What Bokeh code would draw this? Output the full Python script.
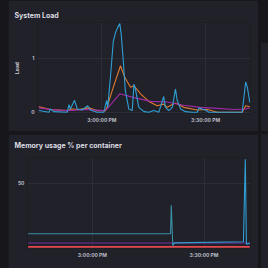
from bokeh.plotting import figure
from bokeh.layouts import row, column
from bokeh.models import Spacer, FixedTicker
from bokeh.embed import file_html
from bokeh.resources import INLINE

PAGE = "#16161b"
PANEL = "#212129"
GRID = "#2d2d37"
TITLE_C = "#dcdde3"
TICK_C = "#b9bcc5"
FONT = "Inter"

# shared x ticks (minutes relative to 3:00 PM)
tick_minutes = [0, 30]
tick_labels = ["3:00:00 PM", "3:30:00 PM"]

# ---- System Load ----
load1_t = [-18.2, -15.3, -14.9, -13.9, -10.0, -9.5, -9.1, -7.9, -7.1, -5.7, -4.1, -3.3, -1.4, 0.6,
           1.4, 1.7, 2.5, 3.3, 4.0, 4.6, 5.2, 5.6, 6.2, 6.8, 7.8, 8.8, 9.3, 9.7, 10.7, 12.2, 13.6,
           15.0, 16.5, 17.9, 18.4, 19.4, 20.4, 21.3, 21.8, 22.8, 24.2, 26.1, 27.6, 28.1, 29.0,
           30.0, 31.0, 33.4, 38.2, 40.6, 41.6, 42.1, 42.8]
load1_v = [0.03, 0.0, 0.06, 0.01, 0.0, 0.14, 0.06, 0.22, 0.06, 0.04, 0.12, 0.04, 0.0, 0.0,
           0.22, 0.09, 0.65, 1.30, 1.48, 1.57, 1.64, 1.45, 0.96, 0.40, 0.06, 0.03, 0.52, 0.43, 0.09,
           0.01, 0.0, 0.03, 0.0, 0.29, 0.09, 0.03, 0.09, 0.43, 0.22, 0.06, 0.01, 0.0, 0.0, 0.08,
           0.06, 0.04, 0.0, 0.0, 0.0, 0.0, 0.56, 0.46, 0.18]
load5_t = [-18.2, -14.9, -10.0, -8.6, -6.7, -3.8, -1.4, 1.1, 1.5, 3.0, 5.4, 6.6, 8.3, 9.3, 11.2,
           13.6, 16.0, 17.9, 18.9, 21.3, 23.7, 27.6, 30.5, 33.4, 40.6, 41.6, 42.8]
load5_v = [0.10, 0.05, 0.03, 0.06, 0.05, 0.08, 0.03, 0.03, 0.09, 0.40, 0.86, 0.65, 0.46, 0.49, 0.34,
           0.20, 0.12, 0.15, 0.09, 0.17, 0.09, 0.04, 0.05, 0.0, 0.0, 0.12, 0.10]
load15_t = [-18.2, -14.9, -10.0, -4.5, 0.6, 1.5, 5.2, 9.3, 14.1, 18.9, 23.7, 28.5, 33.4, 38.2, 41.6, 42.8]
load15_v = [0.08, 0.05, 0.03, 0.05, 0.03, 0.06, 0.34, 0.27, 0.20, 0.19, 0.13, 0.09, 0.07, 0.05, 0.06, 0.08]
load_ticks = [0, 1]

# ---- Memory usage % per container ----
mem_a_t = [-17.3, 21.0, 21.2, 21.6]
mem_a_v = [10.7, 10.7, 33.0, 1.5]
mem_b_t = [21.6, 22.0, 40.6, 41.1, 41.4, 41.6, 42.3]
mem_b_v = [1.5, 3.6, 4.5, 69.0, 3.0, 2.5, 3.4]
mem_c_t = [-17.3, 42.3]
mem_c_v = [3.4, 3.4]
mem_d_t = [-17.3, 42.3]
mem_d_v = [0.4, 0.4]
mem_ticks = [50]

BLUE = "#2f9fd4"
ORANGE = "#e07a2e"
MAGENTA = "#a02aa6"
TEAL = "#3a8fa6"
PURPLE = "#5b2a78"
RED = "#e5484d"


def style(p, title_offset, standoff, valign, yticks):
    p.title.text_font = FONT
    p.title.text_font_size = "7px"
    p.title.text_font_style = "bold"
    p.title.text_color = TITLE_C
    p.title.align = "left"
    p.title.vertical_align = valign
    p.title.offset = title_offset
    p.title.standoff = standoff
    p.background_fill_color = PANEL
    p.border_fill_color = PANEL
    p.outline_line_color = None
    for ax in (p.xaxis[0], p.yaxis[0]):
        ax.axis_line_color = None
        ax.major_tick_line_color = None
        ax.minor_tick_line_color = None
        ax.major_tick_out = 0
        ax.minor_tick_out = 0
        ax.major_label_text_font = FONT
        ax.major_label_text_font_size = "5px"
        ax.major_label_text_color = TICK_C
        ax.major_label_text_font_style = "bold"
        ax.major_label_standoff = 3
    p.xaxis[0].ticker = FixedTicker(ticks=tick_minutes)
    p.xaxis[0].major_label_overrides = {m: s for m, s in zip(tick_minutes, tick_labels)}
    p.yaxis[0].ticker = FixedTicker(ticks=yticks)
    p.xgrid[0].ticker = FixedTicker(ticks=tick_minutes)
    p.ygrid[0].ticker = FixedTicker(ticks=yticks)
    p.xgrid.grid_line_color = GRID
    p.ygrid.grid_line_color = GRID


p1 = figure(width=250, height=131, x_range=(-18.6, 43.0), y_range=(-0.024, 1.66),
            output_backend="svg", toolbar_location=None, title="System Load",
            min_border_left=29, min_border_right=8, min_border_top=22, min_border_bottom=18)
style(p1, -23, 5, "bottom", load_ticks)
p1.yaxis[0].axis_label = "Load"
p1.yaxis[0].axis_label_text_font = FONT
p1.yaxis[0].axis_label_text_font_size = "5px"
p1.yaxis[0].axis_label_text_font_style = "bold"
p1.yaxis[0].axis_label_text_color = "#cfd1d8"
p1.yaxis[0].axis_label_standoff = 8
p1.line(load5_t, load5_v, line_color=ORANGE, line_width=1.1)
p1.line(load15_t, load15_v, line_color=MAGENTA, line_width=1.1)
p1.line(load1_t, load1_v, line_color=BLUE, line_width=1.1)

p2 = figure(width=250, height=134, x_range=(-17.46, 42.5), y_range=(-0.8, 70.3),
            output_backend="svg", toolbar_location=None, title="Memory usage % per container",
            min_border_left=19, min_border_right=8, min_border_top=23, min_border_bottom=20)
style(p2, -13, 11, "top", mem_ticks)
p2.line(mem_d_t, mem_d_v, line_color=RED, line_width=1.7)
p2.line(mem_c_t, mem_c_v, line_color=PURPLE, line_width=1.5)
p2.line(mem_a_t, mem_a_v, line_color=TEAL, line_width=1.1)
p2.line(mem_b_t, mem_b_v, line_color=BLUE, line_width=1.1)


def strip(w, h, color=None):
    if color is None:
        return Spacer(width=w, height=h, margin=0)
    return Spacer(width=w, height=h, margin=0, styles={"background-color": color})


top = row(strip(8, 131), p1, strip(3, 131),
          column(strip(7, 43), strip(7, 88, PANEL), spacing=0), spacing=0)
bottom = row(strip(8, 134), p2, strip(3, 134), strip(7, 134, PANEL), spacing=0)
layout = column(top, strip(268, 3), bottom, spacing=0,
                styles={"background-color": PAGE})

open("out.html", "w").write(file_html(layout, INLINE))
